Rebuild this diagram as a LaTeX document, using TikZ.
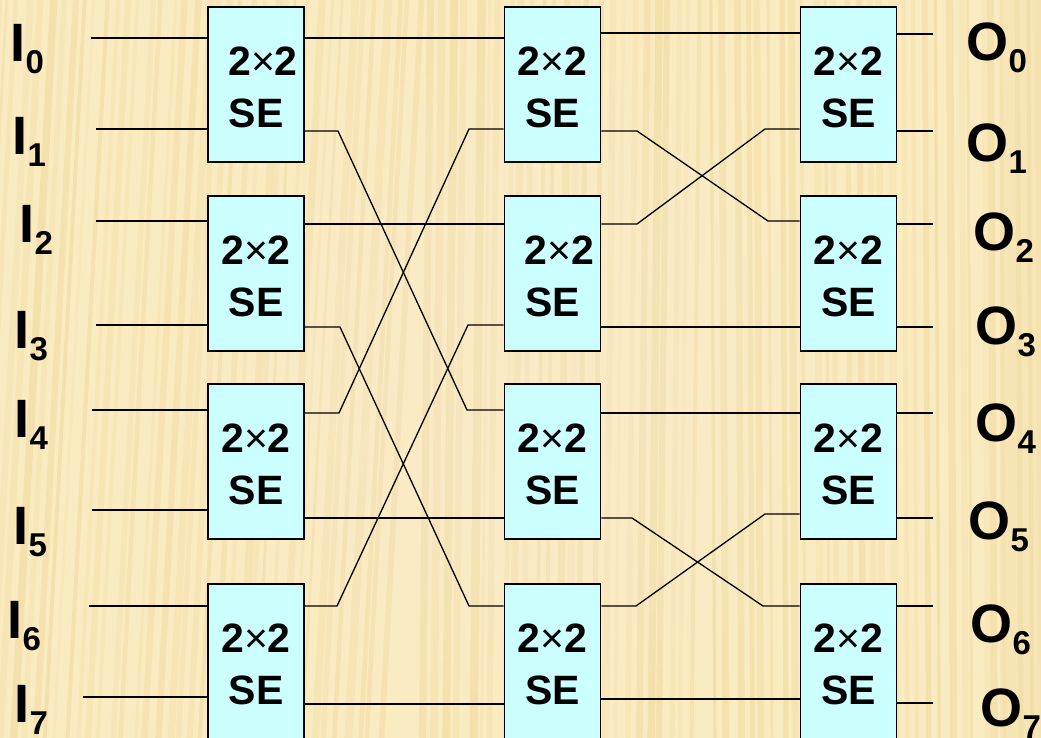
\documentclass[tikz,border=0pt]{standalone}
\usepackage{fontspec}
\setmainfont{Liberation Sans}
\definecolor{bgbase}{HTML}{FBEBC0}
\definecolor{bgstripe}{HTML}{E9CF8C}
\definecolor{bglight}{HTML}{FFF6D8}
\definecolor{secyan}{HTML}{CCFFFF}
\newcommand\labsub[1]{\raisebox{-12pt}{\fontsize{33}{33}\selectfont #1}}
\tikzset{
  sebox/.style={draw=black, line width=1.6pt, fill=secyan, minimum width=96pt, minimum height=155pt, inner sep=0pt},
  setext/.style={font=\bfseries\fontsize{41}{52}\selectfont, align=center, inner sep=0pt},
  wire/.style={line width=1.3pt, black},
  iolab/.style={font=\bfseries\fontsize{54}{54}\selectfont, inner sep=0pt, anchor=base west}
}
\newcommand\sx{2{\mdseries ×}2}
\begin{document}
\begin{tikzpicture}[x=1pt,y=-1pt]
\useasboundingbox (0,0) rectangle (1041,738);
\clip (0,0) rectangle (1041,738);
% background
\fill[bgbase] (0,0) rectangle (1041,738);
\pgfmathsetseed{11}
\foreach \i in {0,...,95} {
  \pgfmathsetmacro\xx{\i*11.2 + rnd*6 - 10}
  \pgfmathsetmacro\ww{2.5+rnd*6}
  \pgfmathsetmacro\op{0.12+rnd*0.28}
  \pgfmathsetmacro\sl{\xx<420 ? -40 : (\xx<700 ? -8 : 4)}
  \fill[bgstripe, opacity=\op] (\xx,0) -- ++(\ww,0) -- ++(\sl,738) -- ++(-\ww,0) -- cycle;
}
\foreach \k in {1,...,8} {
  \fill[bglight, opacity=0.05] (520,380) ellipse ({380-\k*30} and {340-\k*26});
}
\fill[bgstripe, opacity=0.18] (1000,0) rectangle (1041,738);

% switching elements
\foreach \c/\x in {0/256,1/552.5,2/848.5} {
  \foreach \r/\y in {0/84.5,1/273.5,2/461.5,3/661.5} {
    \node[sebox] (b\c\r) at (\x,\y) {};
  }
}
\foreach \c/\r in {0/1,0/2,0/3,1/0,1/2,1/3,2/0,2/1,2/2,2/3} {
  \node[setext] (t\c\r) at ([yshift=-2.5pt]b\c\r.center) {\sx\\SE};
}
\node[setext] (t00) at ([yshift=-2.5pt]b00.center) {\hspace*{14pt}\sx\\SE};
\node[setext] (t11) at ([yshift=-2.5pt]b11.center) {\hspace*{14pt}\sx\\SE};

% input labels
\node[iolab] (I0) at (10.5,62) {I\labsub{0}};
\node[iolab] (I1) at (12.5,155) {I\labsub{1}};
\node[iolab] (I2) at (19.5,242) {I\labsub{2}};
\node[iolab] (I3) at (14.5,348) {I\labsub{3}};
\node[iolab] (I4) at (14.5,437) {I\labsub{4}};
\node[iolab] (I5) at (13.5,544) {I\labsub{5}};
\node[iolab] (I6) at (7.5,638) {I\labsub{6}};
\node[iolab] (I7) at (14.5,722) {I\labsub{7}};

% output labels
\node[iolab] (O0) at (966.5,61) {O\labsub{0}};
\node[iolab] (O1) at (966.5,162) {O\labsub{1}};
\node[iolab] (O2) at (973.5,251) {O\labsub{2}};
\node[iolab] (O3) at (975.5,344) {O\labsub{3}};
\node[iolab] (O4) at (975.5,441) {O\labsub{4}};
\node[iolab] (O5) at (968.5,539) {O\labsub{5}};
\node[iolab] (O6) at (970.5,642) {O\labsub{6}};
\node[iolab] (O7) at (980.5,726) {O\labsub{7}};

% free ends of input and output wires
\coordinate (i0) at (91,38);
\coordinate (i1) at (96,129);
\coordinate (i2) at (96,221);
\coordinate (i3) at (96,325);
\coordinate (i4) at (92,410);
\coordinate (i5) at (92,510);
\coordinate (i6) at (89,606);
\coordinate (i7) at (83,697);
\coordinate (o0) at (933,34);
\coordinate (o1) at (933,131);
\coordinate (o2) at (933,224);
\coordinate (o3) at (933,327);
\coordinate (o4) at (933,413);
\coordinate (o5) at (933,518);
\coordinate (o6) at (933,606);
\coordinate (o7) at (933,703);

% inputs
\draw[wire] (i0) -- (b00.west |- i0);
\draw[wire] (i1) -- (b00.west |- i1);
\draw[wire] (i2) -- (b01.west |- i2);
\draw[wire] (i3) -- (b01.west |- i3);
\draw[wire] (i4) -- (b02.west |- i4);
\draw[wire] (i5) -- (b02.west |- i5);
\draw[wire] (i6) -- (b03.west |- i6);
\draw[wire] (i7) -- (b03.west |- i7);

% stage 1 -> stage 2 (perfect shuffle)
\draw[wire] (b00.east |- 0,38) -- (b10.west |- 0,38);
\draw[wire] (b00.east |- 0,131) -- (338,131) -- (467,410) -- (b12.west |- 0,410);
\draw[wire] (b01.east |- 0,224) -- (b11.west |- 0,224);
\draw[wire] (b01.east |- 0,327) -- (340,327) -- (469,606) -- (b13.west |- 0,606);
\draw[wire] (b02.east |- 0,413) -- (339,413) -- (469,129) -- (b10.west |- 0,129);
\draw[wire] (b02.east |- 0,518) -- (b12.west |- 0,518);
\draw[wire] (b03.east |- 0,606) -- (337,606) -- (468,325) -- (b11.west |- 0,325);
\draw[wire] (b03.east |- 0,704) -- (b13.west |- 0,704);

% stage 2 -> stage 3
\draw[wire] (b10.east |- 0,33) -- (b20.west |- 0,33);
\draw[wire] (b10.east |- 0,131) -- (637,131) -- (768,221) -- (b21.west |- 0,221);
\draw[wire] (b11.east |- 0,224) -- (637,224) -- (765,129) -- (b20.west |- 0,129);
\draw[wire] (b11.east |- 0,327) -- (b21.west |- 0,327);
\draw[wire] (b12.east |- 0,413) -- (b22.west |- 0,413);
\draw[wire] (b12.east |- 0,518) -- (632,518) -- (763,606) -- (b23.west |- 0,606);
\draw[wire] (b13.east |- 0,606) -- (636,606) -- (765,514) -- (b22.west |- 0,514);
\draw[wire] (b13.east |- 0,699) -- (b23.west |- 0,699);

% outputs
\draw[wire] (b20.east |- o0) -- (o0);
\draw[wire] (b20.east |- o1) -- (o1);
\draw[wire] (b21.east |- o2) -- (o2);
\draw[wire] (b21.east |- o3) -- (o3);
\draw[wire] (b22.east |- o4) -- (o4);
\draw[wire] (b22.east |- o5) -- (o5);
\draw[wire] (b23.east |- o6) -- (o6);
\draw[wire] (b23.east |- o7) -- (o7);
\end{tikzpicture}
\end{document}
